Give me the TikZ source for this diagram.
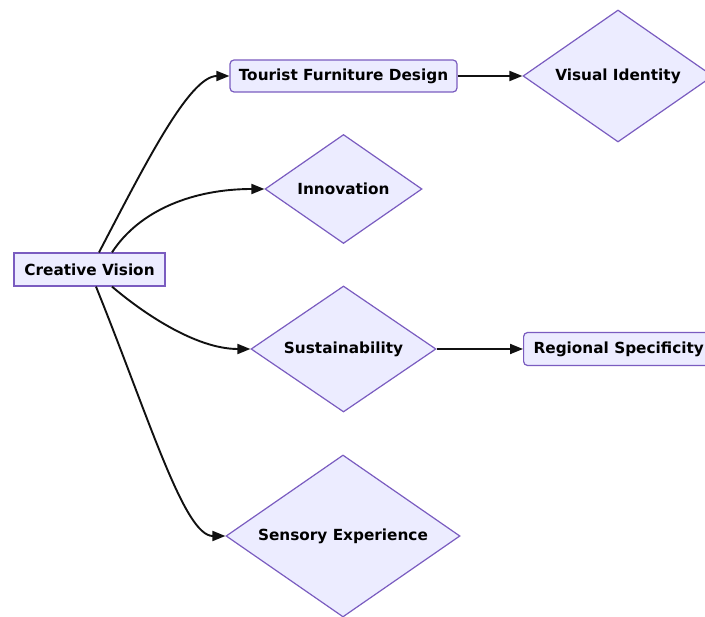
\documentclass[tikz,border=0pt]{standalone}
\usepackage{fontspec}
\setmainfont{DejaVu Sans}
\usetikzlibrary{shapes.geometric,arrows.meta}
\definecolor{mfill}{HTML}{ECECFF}
\definecolor{mstroke}{HTML}{7A5CC0}
\definecolor{medge}{HTML}{111111}
\begin{document}
\begin{tikzpicture}[x=1pt,y=-1pt,
  base/.style={draw=mstroke,fill=mfill,line width=1.2pt,text=black,
    font=\fontsize{15.3}{18}\selectfont\bfseries,inner sep=0pt},
  rectbox/.style={base,rectangle},
  roundbox/.style={base,rectangle,rounded corners=4pt},
  decision/.style={base,diamond,aspect=1.45},
  link/.style={draw=medge,line width=1.9pt,-{Triangle[length=13pt,width=10pt]}}]
\useasboundingbox (0,0) rectangle (705,617);
\clip (0,0) rectangle (705,617);
\node[rectbox,minimum width=151pt,minimum height=33pt] (cv) at (89.5,269.5) {Creative Vision};
\node[roundbox,minimum width=227pt,minimum height=32pt] (tfd) at (343.5,76) {Tourist Furniture Design};
\node[decision,minimum width=190pt,minimum height=132pt] (vi) at (618,76) {Visual Identity};
\node[decision,minimum width=157pt,minimum height=109pt] (inn) at (343.5,189) {Innovation};
\node[decision,minimum width=185pt,minimum height=126pt] (sus) at (343.5,349) {Sustainability};
\node[roundbox,minimum height=33pt,inner xsep=10pt,anchor=west] (rs) at (523,349) {Regional Specificity};
\node[decision,minimum width=234pt,minimum height=162pt] (se) at (343,536) {Sensory Experience};
\draw[link] ([xshift=9.5pt]cv.north) .. controls +(46,-88) and +(-40,0) .. (tfd.west);
\draw[link] ([xshift=22.5pt]cv.north) .. controls +(28,-43) and +(-70,0) .. (inn.west);
\draw[link] ([xshift=22.5pt]cv.south) .. controls +(28,24) and +(-56,0) .. (sus.west);
\draw[link] ([xshift=6.5pt]cv.south) .. controls +(54,134) and +(-41,0) .. (se.west);
\draw[link] (tfd.east) -- (vi.west);
\draw[link] (sus.east) -- (rs.west);
\end{tikzpicture}
\end{document}
